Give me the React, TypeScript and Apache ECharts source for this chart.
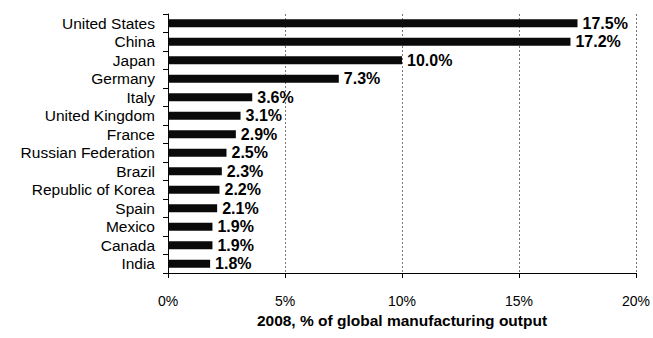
import React, { useEffect, useRef } from "react";
import * as echarts from "echarts";

const countries = [
  "United States",
  "China",
  "Japan",
  "Germany",
  "Italy",
  "United Kingdom",
  "France",
  "Russian Federation",
  "Brazil",
  "Republic of Korea",
  "Spain",
  "Mexico",
  "Canada",
  "India",
];

const shares = [17.5, 17.2, 10.0, 7.3, 3.6, 3.1, 2.9, 2.5, 2.3, 2.2, 2.1, 1.9, 1.9, 1.8];

const axisTitle = "2008, % of global manufacturing output";

const FONT = "'Liberation Sans', Arial, sans-serif";

export default function App() {
  const ref = useRef<HTMLDivElement>(null);

  useEffect(() => {
    if (!ref.current) return;
    const chart = echarts.init(ref.current, undefined, { renderer: "svg" });
    chart.setOption({
      animation: false,
      backgroundColor: "#ffffff",
      grid: { left: 168, right: 16, top: 14, bottom: 65 },
      xAxis: {
        type: "value",
        min: 0,
        max: 20,
        interval: 5,
        name: axisTitle,
        nameLocation: "middle",
        nameGap: 39,
        nameTextStyle: { fontFamily: FONT, fontSize: 15.5, fontWeight: "bold", color: "#000" },
        axisLine: { show: true, lineStyle: { color: "#000", width: 1 } },
        axisTick: { show: true, length: 5, lineStyle: { color: "#000" } },
        axisLabel: {
          formatter: "{value}%",
          fontFamily: FONT,
          fontSize: 14,
          color: "#000",
          margin: 21,
        },
        splitLine: { show: true, lineStyle: { color: "#777", type: [2, 2], width: 1 } },
      },
      yAxis: {
        type: "category",
        data: countries,
        inverse: true,
        axisLine: { show: true, lineStyle: { color: "#000", width: 1 } },
        axisTick: { show: true, length: 5, lineStyle: { color: "#000" } },
        axisLabel: {
          interval: 0,
          fontFamily: FONT,
          fontSize: 15.5,
          color: "#000",
          margin: 13,
        },
        splitLine: { show: false },
      },
      series: [
        {
          type: "bar",
          data: shares,
          barWidth: 8,
          itemStyle: { color: "#0a0a0a" },
          label: {
            show: true,
            position: "right",
            distance: 5,
            formatter: (p: any) => `${Number(p.value).toFixed(1)}%`,
            fontFamily: FONT,
            fontSize: 16,
            fontWeight: "bold",
            color: "#000",
          },
        },
      ],
    });
    return () => chart.dispose();
  }, []);

  return (
    <div
      ref={ref}
      style={{ position: "fixed", left: 0, top: 0, width: 653, height: 338 }}
    />
  );
}
